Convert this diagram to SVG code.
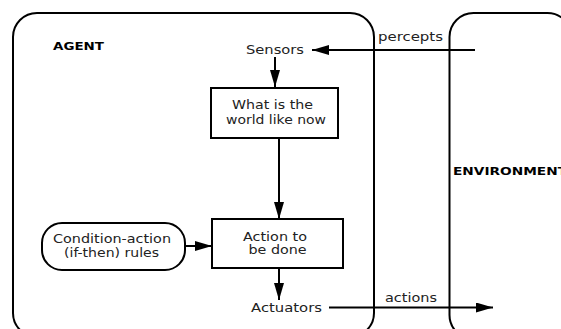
<svg xmlns="http://www.w3.org/2000/svg" width="561" height="329" viewBox="0 0 561 329">
<style>
.box{fill:none;stroke:#000;stroke-width:2}
.node{fill:#fff;stroke:#000;stroke-width:2}
.t{font-family:"DejaVu Sans",sans-serif;font-size:12px;fill:#222}
.b{font-family:"DejaVu Sans",sans-serif;font-size:11px;font-weight:bold;fill:#000}
.c{fill:none;stroke:#000;stroke-width:2;marker-end:url(#ah)}
</style>
<defs>
<marker id="ah" markerUnits="userSpaceOnUse" markerWidth="17" markerHeight="10" refX="17" refY="5" orient="auto">
<path d="M0,0 L17,5 L0,10 z" fill="#000"/>
</marker>
</defs>
<rect width="561" height="329" fill="#fff"/>
<g id="agent">
<rect class="box" x="13" y="13" width="361" height="324" rx="24"/>
<text class="b" x="53" y="50" textLength="51" lengthAdjust="spacingAndGlyphs">AGENT</text>
</g>
<g id="environment">
<rect class="box" x="449.5" y="13" width="122" height="326" rx="24"/>
<text class="b" x="453" y="175" textLength="114" lengthAdjust="spacingAndGlyphs">ENVIRONMENT</text>
</g>
<g id="sensors">
<text class="t" x="246" y="54" textLength="58" lengthAdjust="spacingAndGlyphs">Sensors</text>
</g>
<g id="world">
<rect class="node" x="211" y="88" width="127" height="50"/>
<text class="t" x="232" y="109.3" textLength="81" lengthAdjust="spacingAndGlyphs">What is the</text>
<text class="t" x="226" y="123.5" textLength="100" lengthAdjust="spacingAndGlyphs">world like now</text>
</g>
<g id="rules">
<rect class="node" x="42" y="223" width="143" height="47" rx="20"/>
<text class="t" x="53" y="243.3" textLength="118" lengthAdjust="spacingAndGlyphs">Condition-action</text>
<text class="t" x="64" y="256.5" textLength="95" lengthAdjust="spacingAndGlyphs">(if-then) rules</text>
</g>
<g id="action">
<rect class="node" x="212" y="219" width="131" height="49"/>
<text class="t" x="243" y="240.7" textLength="64" lengthAdjust="spacingAndGlyphs">Action to</text>
<text class="t" x="248.5" y="254" textLength="58" lengthAdjust="spacingAndGlyphs">be done</text>
</g>
<g id="actuators">
<text class="t" x="251" y="312" textLength="71" lengthAdjust="spacingAndGlyphs">Actuators</text>
</g>
<g id="connectors">
<path class="c" d="M475,50 L312,50"/>
<text class="t" x="378" y="40.5" textLength="65" lengthAdjust="spacingAndGlyphs">percepts</text>
<path class="c" d="M275,57 L275,87"/>
<path class="c" d="M279,138 L279,219"/>
<path class="c" d="M185,246 L212,246"/>
<path class="c" d="M279,268 L279,300"/>
<path class="c" d="M329,307.5 L493,307.5"/>
<text class="t" x="385" y="301.7" textLength="52" lengthAdjust="spacingAndGlyphs">actions</text>
</g>
</svg>
